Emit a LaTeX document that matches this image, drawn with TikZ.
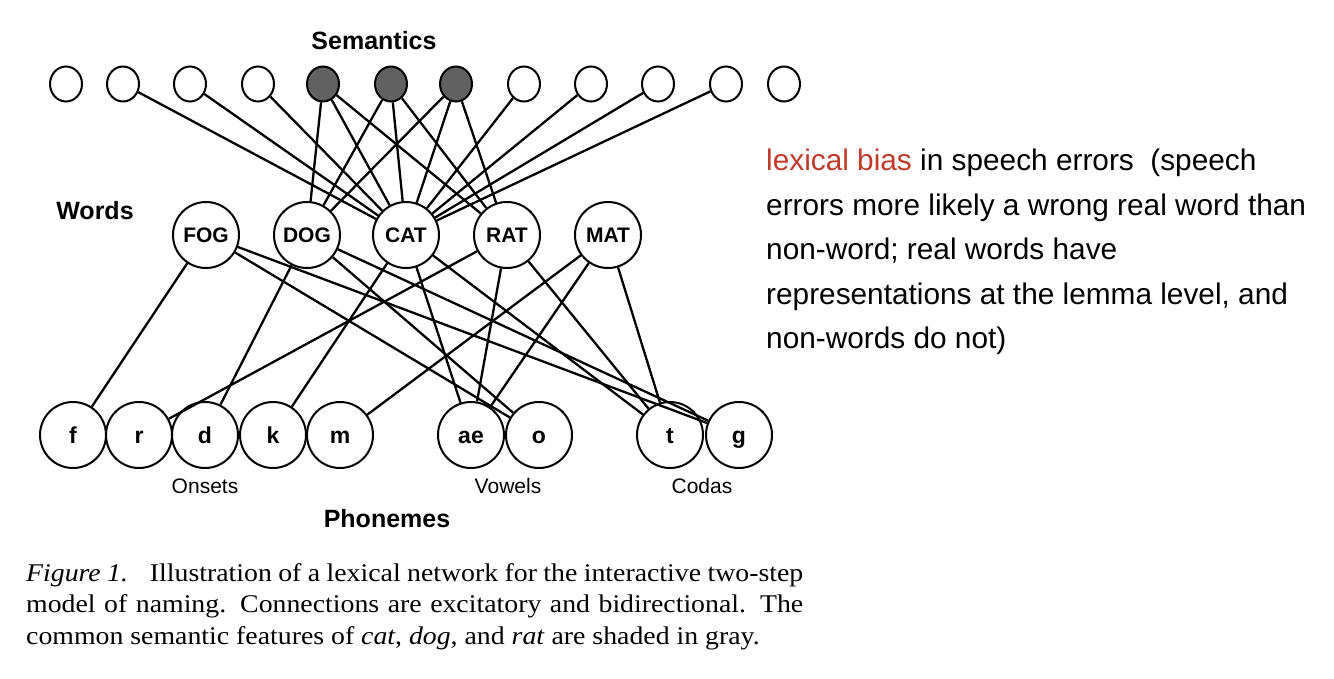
\documentclass[tikz,border=0pt]{standalone}
\usepackage{fontspec}
\usetikzlibrary{shapes.geometric}
\setmainfont{Liberation Serif}
\newfontfamily\hv{Liberation Sans}
\newfontfamily\capfont{Liberation Serif}[FakeStretch=1.09]
\definecolor{biasred}{RGB}{192,58,43}
\begin{document}
\begin{tikzpicture}[x=1pt,y=-1pt,
  sem/.style={ellipse,draw,line width=2pt,minimum width=32pt,minimum height=35pt,inner sep=0pt},
  shaded/.style={sem,fill=black!62},
  word/.style={circle,draw,line width=2pt,minimum size=66pt,inner sep=0pt,text height=15pt,text depth=0pt,font=\hv\bfseries\fontsize{21}{21}\selectfont},
  phon/.style={circle,draw,line width=2pt,minimum size=66pt,inner sep=0pt,text height=16pt,text depth=0pt,font=\hv\bfseries\fontsize{23}{23}\selectfont},
  conn/.style={line width=2.3pt},
  title/.style={font=\hv\bfseries\fontsize{25}{25}\selectfont},
  group/.style={font=\hv\fontsize{21}{21}\selectfont}]
\useasboundingbox (0,0) rectangle (1334,678);
% semantics
\foreach \x [count=\i] in {66,123,190,258,323,391,456,524,591,658,726,784}{
  \ifnum\i<5 \node[sem] (s\i) at (\x,84) {};\else\ifnum\i>7 \node[sem] (s\i) at (\x,84) {};\else \node[shaded] (s\i) at (\x,84) {};\fi\fi
}
% words
\node[word] (FOG) at (206,235) {FOG};
\node[word] (DOG) at (307,235) {DOG};
\node[word] (CAT) at (406,235) {CAT};
\node[word] (RAT) at (507,235) {RAT};
\node[word] (MAT) at (608,235) {MAT};
% phonemes
\node[phon] (f) at (73,435) {f};
\node[phon] (r) at (139,435) {r};
\node[phon] (d) at (205,435) {d};
\node[phon] (k) at (273,435) {k};
\node[phon] (m) at (340,435) {m};
\node[phon] (ae) at (471,435) {ae};
\node[phon] (o) at (539,435) {o};
\node[phon] (t) at (670,435) {t};
\node[phon] (g) at (739,435) {g};
% connections semantics-words
\foreach \i in {2,...,11} \draw[conn] (s\i) -- (CAT);
\foreach \i in {5,6,7} {\draw[conn] (s\i) -- (DOG); \draw[conn] (s\i) -- (RAT);}
% connections words-phonemes
\foreach \w/\a/\b/\c in {FOG/f/o/g,DOG/d/o/g,CAT/k/ae/t,RAT/r/ae/t,MAT/m/ae/t}{
  \draw[conn] (\w) -- (\a); \draw[conn] (\w) -- (\b); \draw[conn] (\w) -- (\c);}
% labels
\node[title] (lsem) at (374,41) {Semantics};
\node[title] (lwords) at (95,211) {Words};
\node[title] (lphon) at (387,519) {Phonemes};
\node[group] (lons) at (205,486) {Onsets};
\node[group] (lvow) at (508,486) {Vowels};
\node[group] (lcod) at (702,486) {Codas};
% caption
\node[anchor=north west,inner sep=0pt,align=left,font=\capfont\fontsize{25.5}{31.5}\selectfont] (cap) at (26,563)
{\makebox[777pt][s]{\textit{Figure 1.}\hspace{0.5em} Illustration of a lexical network for the interactive two-step}\\
\makebox[777pt][s]{model of naming. Connections are excitatory and bidirectional. The}\\
common semantic features of \textit{cat}, \textit{dog}, and \textit{rat} are shaded in gray.};
% side note
\node[anchor=north west,inner sep=0pt,align=left,font=\hv\fontsize{29.8}{44.5}\selectfont] (note) at (766,149)
{\textcolor{biasred}{lexical bias} in speech errors\ \ (speech\\
errors more likely a wrong real word than\\
non-word; real words have\\
representations at the lemma level, and\\
non-words do not)};
\end{tikzpicture}
\end{document}
